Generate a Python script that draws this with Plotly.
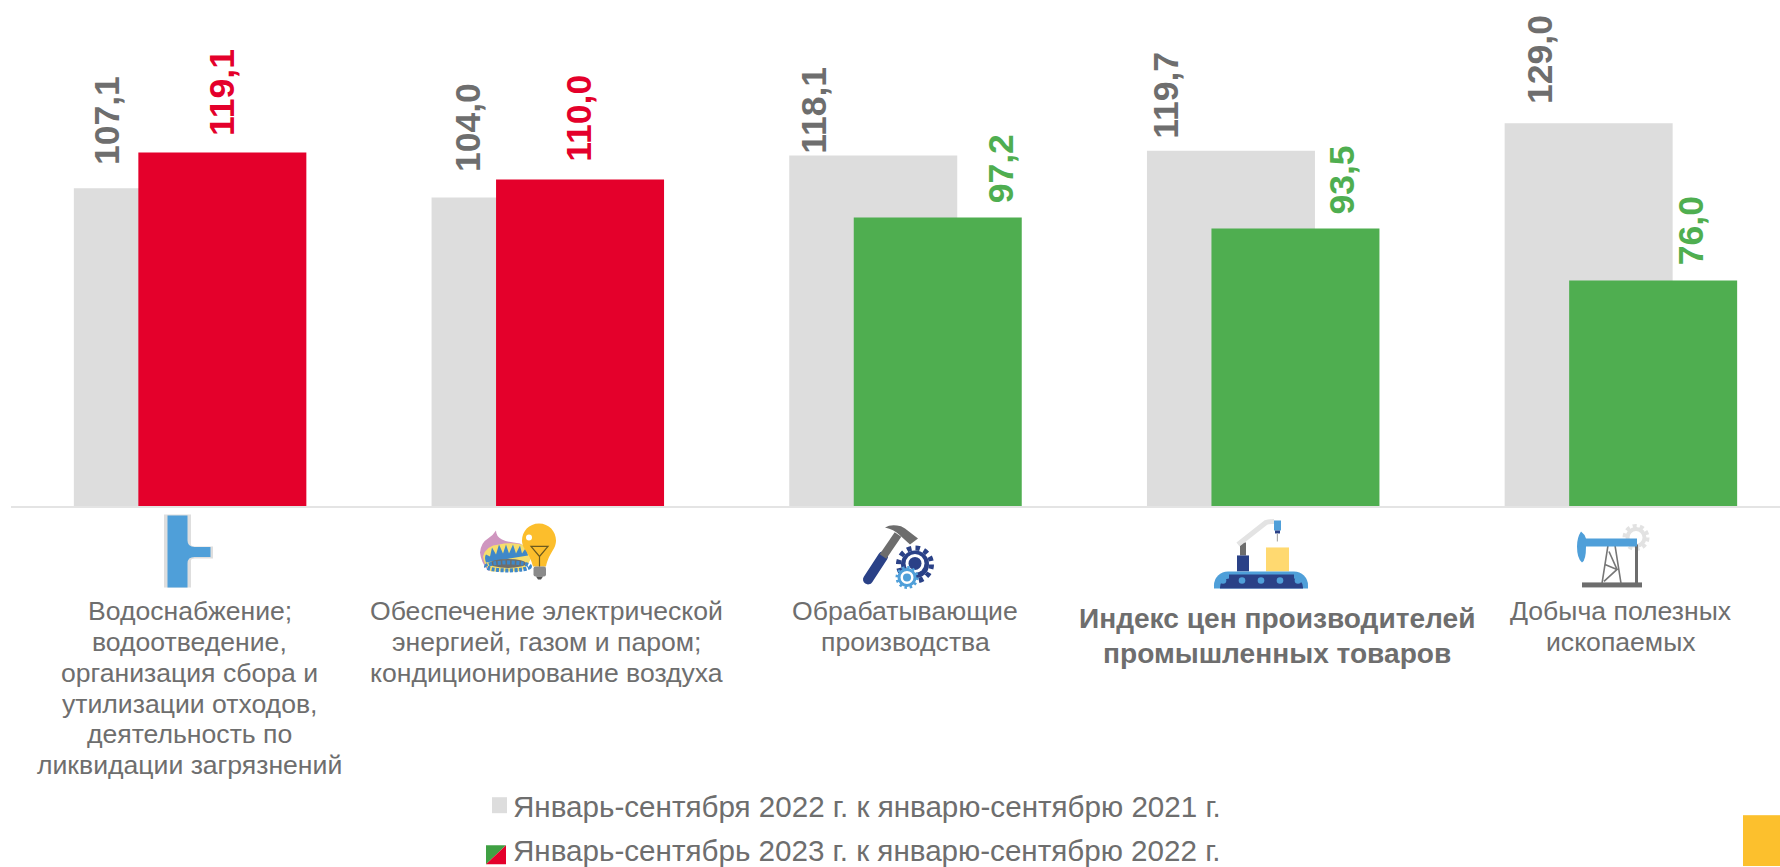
import base64
import plotly.graph_objects as go

categories = [
    "Водоснабжение; водоотведение, организация сбора и утилизации отходов, деятельность по ликвидации загрязнений",
    "Обеспечение электрической энергией, газом и паром; кондиционирование воздуха",
    "Обрабатывающие производства",
    "Индекс цен производителей промышленных товаров",
    "Добыча полезных ископаемых",
]
category_lines = [
    ["Водоснабжение;", "водоотведение,", "организация сбора и", "утилизации отходов,", "деятельность по", "ликвидации загрязнений"],
    ["Обеспечение электрической", "энергией, газом и паром;", "кондиционирование воздуха"],
    ["Обрабатывающие", "производства"],
    ["Индекс цен производителей", "промышленных товаров"],
    ["Добыча полезных", "ископаемых"],
]
series_2022 = [107.1, 104.0, 118.1, 119.7, 129.0]
series_2023 = [119.1, 110.0, 97.2, 93.5, 76.0]
legend_2022 = "Январь-сентября 2022 г. к январю-сентябрю 2021 г."
legend_2023 = "Январь-сентябрь 2023 г. к январю-сентябрю 2022 г."

GRAY = "#dddddd"
RED = "#e4002b"
GREEN = "#4fae50"
TEXT = "#6e6e6e"
FONT = "Liberation Sans"
W, H = 1780, 867
PLOT_L, PLOT_B = 11, 506.5
STEP = 357.7
PX_PER_UNIT = 2.97
BAR_W = 168 / STEP
GRAY_OFF = -116 / STEP
COL_OFF = -51.5 / STEP

colors_2023 = [RED if v > 100 else GREEN for v in series_2023]

fig = go.Figure()
fig.add_bar(x=categories, y=series_2022, name=legend_2022, marker_color=GRAY, marker_line_width=0,
            width=BAR_W, offset=GRAY_OFF, hoverinfo="skip")
fig.add_bar(x=categories, y=series_2023, name=legend_2023, marker_color=colors_2023, marker_line_width=0,
            width=BAR_W, offset=COL_OFF, hoverinfo="skip")

ann = []
# value labels: (horizontal shift from category centre, gap above the bar)
shift_2022 = [(-83, 21.5), (-79, 23.5), (-92, -0.5), (-97, 10.5), (-80, 17.5)]
shift_2023 = [(32, 15), (32, 16), (96, 12), (79, 12.5), (70, 13.5)]
LABEL_SIZE = 35.5
for i, c in enumerate(categories):
    for val, col, (dx, gap) in ((series_2022[i], TEXT, shift_2022[i]), (series_2023[i], colors_2023[i], shift_2023[i])):
        ann.append(dict(x=c, y=val, xref="x", yref="y", text=f"<b>{val:.1f}</b>".replace(".", ","),
                        textangle=-90, showarrow=False, xshift=dx, yshift=gap, yanchor="bottom", xanchor="center",
                        font=dict(family=FONT, size=LABEL_SIZE, color=col)))

def paper_y(py):
    return 1 - py / PLOT_B

# category captions, one annotation per line to hold the original leading
first_y = [612, 612, 612, 619, 612]
leading = [30.8, 30.8, 30.8, 35, 30.8]
caption_dx = [0, -1, 0, 14, 0]
for i, lines in enumerate(category_lines):
    bold = i == 3
    for j, ln in enumerate(lines):
        ann.append(dict(x=categories[i], xref="x", yref="paper", y=paper_y(first_y[i] + j * leading[i]),
                        text=f"<b>{ln}</b>" if bold else ln, showarrow=False, xshift=caption_dx[i],
                        xanchor="center", yanchor="middle",
                        font=dict(family=FONT, size=28.1 if bold else 26.6, color=TEXT)))

# legend text
for txt, py in ((legend_2022, 807), (legend_2023, 851)):
    ann.append(dict(x=(511 - PLOT_L) / (W - PLOT_L), xref="paper", y=paper_y(py), yref="paper", text=txt,
                    showarrow=False, xanchor="left", yanchor="middle",
                    font=dict(family=FONT, size=29.6, color=TEXT)))

svg = f'''<svg xmlns="http://www.w3.org/2000/svg" width="{W}" height="{H}" viewBox="0 0 {W} {H}">
<!-- pipe -->
<path d="M164 515h27v30q0 2 4 2h18v2v10h-18q-4 0-4 2v27h-27z" fill="#dedede"/>
<path d="M167.5 516h20v25q0 6.500 7 6.500h16v10h-16q-7 0-7 6.500v24h-20z" fill="#4f9fd9"/>
<!-- gas + bulb -->
<path d="M480 553q1-10 8-14q5-3 8-8q0 6 6 9q6 3 18 4l8 5l-2 16q-6 6-12 6h-26q-7-8-8-18z" fill="#cf96bf"/>
<path d="M483 557q3-11 16-12q12-3 27 1l6 11q-6 14-14 15h-27q-7-6-8-15z" fill="#f6dd6c"/>
<path d="M486 563q-2-5 0-8l4 2l2-9l4 7l3-10l4 9l3-9l3 9l4-9l3 9l4-8l2 8l4-6l2 8z" fill="#3f88c9"/>
<ellipse cx="508" cy="564" rx="18" ry="4.500" fill="#6d6d6d"/>
<ellipse cx="508" cy="567" rx="22" ry="4" fill="none" stroke="#3f88c9" stroke-width="4" stroke-dasharray="3 1.500"/>
<path d="M539 524c-10 0-17 8-17 17c0 9 8 12 11 26h13c3-14 10-17 10-26c0-9-7-17-17-17z" fill="#fcbe2c"/>
<rect x="533.500" y="567" width="12.500" height="10" rx="2" fill="#8a8a8a"/><path d="M536 577h7l-2 3h-3z" fill="#555"/>
<path d="M531 547h17l-8.500 10zM539.500 557v10" fill="none" stroke="#6d5a1e" stroke-width="1.200"/>
<circle cx="529" cy="538" r="3" fill="#fff"/>
<!-- hammer + gears -->
<path d="M868 580l15-23" stroke="#2a4187" stroke-width="10" stroke-linecap="round" fill="none"/>
<path d="M883 557l15-22" stroke="#6d6d6d" stroke-width="8" fill="none"/>
<path d="M885 528q5-3 12-2q4 0 8 3l13 10l-8 6l-11-10q-5-5-14-7z" fill="#6d6d6d"/>
<circle cx="915" cy="565" r="14" fill="#2a4187"/>
<circle cx="915" cy="565" r="16.500" fill="none" stroke="#2a4187" stroke-width="5" stroke-dasharray="4.500 4.140"/>
<circle cx="915" cy="564" r="9.500" fill="#fff"/><circle cx="915" cy="564" r="6.500" fill="#2a4187"/>
<circle cx="907" cy="578" r="9" fill="#fff"/>
<circle cx="907" cy="578" r="8" fill="none" stroke="#4f9fd9" stroke-width="3"/>
<circle cx="907" cy="578" r="10" fill="none" stroke="#4f9fd9" stroke-width="3" stroke-dasharray="2.500 2.730"/>
<circle cx="907" cy="578" r="4" fill="#4f9fd9"/>
<!-- conveyor -->
<rect x="1240" y="543" width="6" height="13" fill="#6d6d6d"/>
<path d="M1238 545l28-22q2-1 8-1" stroke="#e3e3e3" stroke-width="5" fill="none"/>
<rect x="1274" y="521" width="7" height="10" fill="#4f9fd9"/><rect x="1275" y="531" width="5" height="3" fill="#2a4187"/>
<rect x="1276.800" y="534" width="1.200" height="8" fill="#aaa"/>
<rect x="1237" y="556" width="12" height="16" fill="#2a4187"/>
<rect x="1266" y="548" width="23" height="24" fill="#ffd970"/>
<path d="M1214 589v-3a14 14 0 0 1 14-14h66a14 14 0 0 1 14 14v3z" fill="#4f9fd9"/>
<path d="M1220 589v-1a9 9 0 0 1 9-9v-4h65v4a9 9 0 0 1 9 9v1z" fill="#2a4187"/>
<g fill="#4f9fd9"><circle cx="1223" cy="581" r="3.300"/><circle cx="1242" cy="581" r="3.300"/><circle cx="1261" cy="581" r="3.300"/><circle cx="1280" cy="581" r="3.300"/><circle cx="1298" cy="581" r="3.300"/></g>
<!-- pump jack -->
<circle cx="1636" cy="538" r="8.500" fill="none" stroke="#e2e2e2" stroke-width="4"/>
<circle cx="1636" cy="538" r="11.500" fill="none" stroke="#e2e2e2" stroke-width="4" stroke-dasharray="4 3.220"/>
<rect x="1582" y="583" width="60" height="5" fill="#6d6d6d"/>
<rect x="1635" y="545" width="3" height="39" fill="#6d6d6d"/>
<path d="M1602 584l6-38M1621 584l-6-38M1605 565l12 5l-13 12M1609 552l8 18" stroke="#777" stroke-width="1.600" fill="none"/>
<path d="M1581 532q4 3 5 7h51v8h-51q0 14-4 16q-5-4-5-16q0-9 4-15z" fill="#4f9fd9"/>
<!-- legend swatches and corner block -->
<rect x="492" y="798" width="15" height="16" fill="{GRAY}"/>
<path d="M486 846h20l-20 19z" fill="#3fa043"/><path d="M506 846v19h-20z" fill="{RED}"/>
<rect x="1743" y="816" width="37" height="51" fill="#fcc02d"/>
</svg>'''
uri = "data:image/svg+xml;base64," + base64.b64encode(svg.encode()).decode()

plot_w = W - PLOT_L
fig.update_layout(
    width=W, height=H, barmode="overlay", showlegend=False,
    margin=dict(l=PLOT_L, r=0, t=0, b=H - PLOT_B, pad=0),
    paper_bgcolor="white", plot_bgcolor="white",
    annotations=ann,
    images=[dict(source=uri, xref="paper", yref="paper", x=-PLOT_L / plot_w, y=1,
                 sizex=W / plot_w, sizey=H / PLOT_B, sizing="stretch", xanchor="left", yanchor="top", layer="below")],
    xaxis=dict(type="category", categoryorder="array", categoryarray=categories,
               range=[-0.5, -0.5 + plot_w / STEP], showticklabels=False, ticks="", showgrid=False, zeroline=False,
               showline=True, linecolor="#e4e4e4", linewidth=2),
    yaxis=dict(range=[0, PLOT_B / PX_PER_UNIT], visible=False, showgrid=False, zeroline=False),
)
fig.write_html("out.html", config=dict(displayModeBar=False),
               post_script="document.body.style.margin='0';document.documentElement.style.overflow='hidden';")
